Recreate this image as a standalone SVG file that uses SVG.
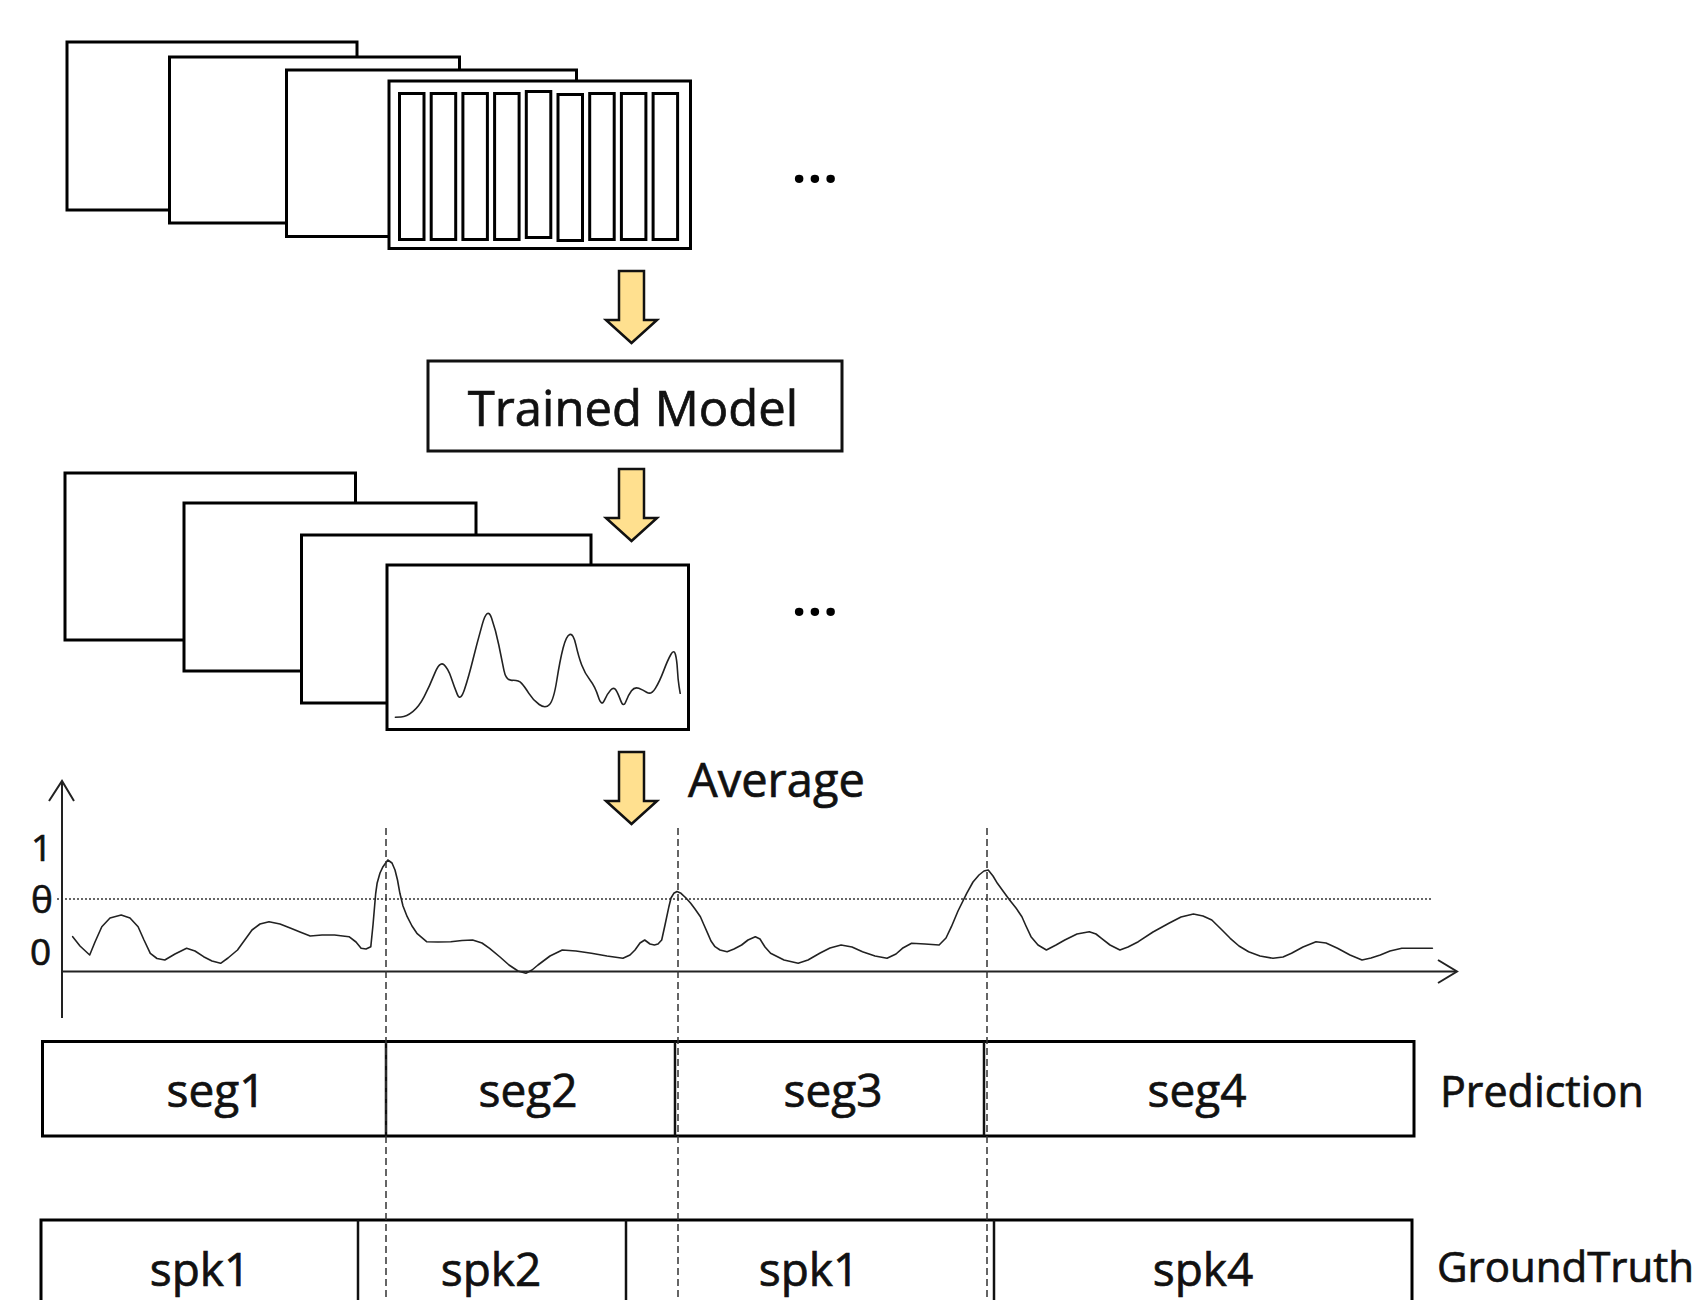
<svg xmlns="http://www.w3.org/2000/svg" width="1701" height="1300" viewBox="0 0 1701 1300">
  <style>
    .frame { fill: #fff; stroke: #000; stroke-width: 3; }
    .bar { fill: none; stroke: #000; stroke-width: 3; }
    .box { fill: #fff; stroke: #111; stroke-width: 3; }
    .lbl { font-family: 'Open Sans', 'Noto Sans', sans-serif; fill: #111; stroke: #111; stroke-width: 0.7; }
    .dots { font-family: 'Open Sans', 'Noto Sans', sans-serif; font-weight: 700; fill: #000; }
    .axis { fill: none; stroke: #222; stroke-width: 2; }
    .curve { fill: none; stroke: #222; stroke-width: 1.6; stroke-linejoin: round; stroke-linecap: round; }
    .thresh { stroke: #666; stroke-width: 2; stroke-dasharray: 2 2; }
    .guide { stroke: #333; stroke-width: 1.5; stroke-dasharray: 7 4; }
    .block-arrow { fill: #FFE08F; stroke: #111; stroke-width: 2.5; stroke-linejoin: miter; }
    .divider { stroke: #111; stroke-width: 2.5; }
  </style>
  <defs>
    <!-- downward block arrow, origin at the top-left of the shaft -->
    <path id="down-arrow" class="block-arrow" d="M0,0 H25 V49 H38 L12.5,72 L-13,49 H0 Z"/>
  </defs>

  <rect width="1701" height="1300" fill="#fff"/>

  <!-- input spectrogram stack -->
  <g id="input-stack">
    <rect class="frame" x="67" y="42" width="290" height="168"/>
    <rect class="frame" x="169.5" y="57" width="290" height="166"/>
    <rect class="frame" x="286.5" y="70" width="290" height="166.5"/>
    <rect class="frame" x="389" y="81" width="301.5" height="167.5"/>
    <g class="bar">
      <rect x="399.5" y="93.5" width="24.5" height="146"/>
      <rect x="431.2" y="93.5" width="24.5" height="146"/>
      <rect x="462.9" y="93.5" width="24.5" height="146"/>
      <rect x="494.6" y="93.5" width="24.5" height="146"/>
      <rect x="526.3" y="91.5" width="24.5" height="146"/>
      <rect x="558" y="94.5" width="24.5" height="146"/>
      <rect x="589.7" y="93.5" width="24.5" height="146"/>
      <rect x="621.4" y="93.5" width="24.5" height="146"/>
      <rect x="653.1" y="93.5" width="24.5" height="146"/>
    </g>
  </g>
  <g id="input-ellipsis">
    <text class="dots" x="792" y="183" font-size="50" letter-spacing="1.5">...</text>
  </g>

  <!-- model -->
  <g id="trained-model">
    <rect class="box" x="428" y="361" width="414" height="90"/>
    <text class="lbl" x="633" y="426" font-size="49" text-anchor="middle">Trained Model</text>
  </g>

  <!-- per-window output stack -->
  <g id="output-stack">
    <rect class="frame" x="65" y="473" width="290.5" height="167"/>
    <rect class="frame" x="184" y="503" width="292" height="168"/>
    <rect class="frame" x="301.5" y="535" width="289.5" height="168"/>
    <rect class="frame" x="387" y="565" width="301.5" height="164.5"/>
    <path class="curve" d="M395.4,717.3 L401,717 Q406.6,716.7 412.8,711.7 Q419,706.7 424.15,696.7 Q429.3,686.7 434.5,673.85 Q439.7,661 443.850,664.65 Q448,668.3 451.1,677.5 Q454.2,686.7 457.3,694.35 Q460.4,702 464.55,689.35 Q468.7,676.7 472.85,660 Q477,643.3 482.2,624.65 Q487.4,606 491.55,618 Q495.7,630 498.8,645 Q501.9,660 503.95,670.35 Q506,680.7 512.25,680.35 Q518.5,680 521.6,683.35 Q524.7,686.7 528.85,693.35 Q533,700 539.2,704.5 Q545.4,709 549.55,704.5 Q553.7,700 556.85,680 Q560,660 563.1,648 Q566.2,636 569.7,634.5 Q573.2,633 575.9,644.85 Q578.6,656.7 581.7,665 Q584.8,673.3 590,680 Q595.2,686.7 598.3,696.85 Q601.4,707 604.5,700.15 Q607.6,693.3 610.7,690 Q613.8,686.7 615.9,690 Q618,693.3 620.7,700.65 Q623.4,708 625.9,701.5 Q628.4,695 631.5,690.85 Q634.6,686.7 638.75,688.35 Q642.9,690 647.05,692.5 Q651.2,695 655.35,688.35 Q659.5,681.7 663.6,670.85 Q667.7,660 670.85,654.5 Q674,649 675.45,654.5 Q676.9,660 677.45,670 Q678,680 679.1,686.65 L680.2,693.3"/>
  </g>
  <g id="output-ellipsis">
    <text class="dots" x="792" y="616" font-size="50" letter-spacing="1.5">...</text>
  </g>

  <!-- averaged score chart -->
  <g id="score-chart">
    <line class="thresh" x1="57" y1="899" x2="1433" y2="899"/>
    <line class="axis" x1="62" y1="1018" x2="62" y2="782"/>
    <polyline class="axis" points="49,801 62,781 74,801"/>
    <line class="axis" x1="62" y1="971.5" x2="1456" y2="971.5"/>
    <polyline class="axis" points="1438,960 1457,971.5 1438,983"/>
    <text class="lbl" x="31" y="861" font-size="37">1</text>
    <text class="lbl" x="31" y="913" font-size="37">θ</text>
    <text class="lbl" x="30" y="965" font-size="37">0</text>
    <polyline class="curve" points="72.7,936.7 80,946 89.7,955 95,942 101.8,926.7 110,918 121.2,915 130,918 138.1,926.7 144,940 150.3,953.3 157,958.5 164.8,960 175,954 186.6,948.3 195,951 203.6,956.7 212,961 220.6,963.3 228,958 237.5,950 252,930 260,924 269,921.7 280,924 290.8,928.3 300,932 310.2,936 322,935 334.5,935 349,936.7 356,942 361.1,948.3 366,949 370.8,946.7 373,925 375.7,893.3 377.1,883.3 380,873 383,866.7 387.8,860 392,863 395,870 397.5,880 399.9,893.3 403,906 407.2,916.7 412,926 416.9,933.3 426.6,941.7 438,942 450.8,941.7 462,940.5 472.6,940 482,943 489.6,948.3 500,957 509,965 518,971 525.9,973.3 532,970 538,965 550,956 562.3,950 576,951 591.4,953.3 607,956 622.9,958.3 630,955 635,950 640,943 644.7,940 650,944 654.4,945 658,944 661.7,940 665,925 668.9,906.7 671,898 673.8,893.3 677,891.5 681,893.3 686,898 690.7,903.3 695,909 700.4,916.7 704,925 707.7,933.3 711,941 715,946.7 720,950 727.1,951.7 734,949 741.6,945 748,940 755.3,936.7 760,939 765,947 770.6,953.3 784,960 798.2,963.3 808,960 819.7,953.3 830,948 841.1,945 852,947 862.5,951.7 875,956 887,958.3 896,954 902.4,948.3 911.6,943.3 925,944 939.1,945 946,938 951.4,926.7 958,911 966.7,893.3 973,882 979,875 984,871 988.2,870 993,876 997.4,883.3 1003,891 1009.6,900 1016,908 1021.9,916.7 1026,926 1031,936.7 1038,945 1046.4,950 1056,945 1064.8,940 1077,934 1089.3,931.7 1096,934 1101.5,938.3 1110,945 1119.9,950 1128,947 1138.3,941.7 1153,932 1168.9,923.3 1181,917 1193.4,914 1203,916 1211.8,920 1221,929 1230.2,938.3 1239,946 1248.6,951.7 1260,956 1273,958.3 1283,957 1291.5,953.3 1303,947 1316,941.7 1326,943 1337.5,948.3 1350,955 1362,960 1371,958 1380.3,955 1390,951 1401.8,948.3 1432.4,948.3"/>
  </g>

  <!-- prediction row -->
  <g id="prediction">
    <rect class="bar" x="42.5" y="1041.5" width="1371.5" height="94.5"/>
    <line class="divider" x1="386" y1="1041.5" x2="386" y2="1136"/>
    <line class="divider" x1="675" y1="1041.5" x2="675" y2="1136"/>
    <line class="divider" x1="984" y1="1041.5" x2="984" y2="1136"/>
    <text class="lbl" x="216" y="1107" font-size="46" text-anchor="middle">seg1</text>
    <text class="lbl" x="528" y="1107" font-size="46" text-anchor="middle">seg2</text>
    <text class="lbl" x="833" y="1107" font-size="46" text-anchor="middle">seg3</text>
    <text class="lbl" x="1197" y="1107" font-size="46" text-anchor="middle">seg4</text>
    <text class="lbl" x="1440" y="1107" font-size="43">Prediction</text>
  </g>

  <!-- ground-truth row -->
  <g id="ground-truth">
    <rect class="bar" x="41" y="1220" width="1371" height="100"/>
    <line class="divider" x1="358" y1="1220" x2="358" y2="1300"/>
    <line class="divider" x1="626" y1="1220" x2="626" y2="1300"/>
    <line class="divider" x1="994" y1="1220" x2="994" y2="1300"/>
    <text class="lbl" x="200" y="1286" font-size="46" text-anchor="middle">spk1</text>
    <text class="lbl" x="491" y="1286" font-size="46" text-anchor="middle">spk2</text>
    <text class="lbl" x="809" y="1286" font-size="46" text-anchor="middle">spk1</text>
    <text class="lbl" x="1203" y="1286" font-size="46" text-anchor="middle">spk4</text>
    <text class="lbl" x="1437" y="1282" font-size="42">GroundTruth</text>
  </g>

  <!-- flow arrows and change-point guides -->
  <g id="connectors">
    <use href="#down-arrow" x="619" y="271"/>
    <use href="#down-arrow" x="619" y="469"/>
    <use href="#down-arrow" x="619" y="752"/>
    <text class="lbl" x="688" y="797" font-size="47">Average</text>
    <line class="guide" x1="386" y1="828" x2="386" y2="1300"/>
    <line class="guide" x1="678" y1="828" x2="678" y2="1300"/>
    <line class="guide" x1="987" y1="828" x2="987" y2="1300"/>
  </g>
</svg>
